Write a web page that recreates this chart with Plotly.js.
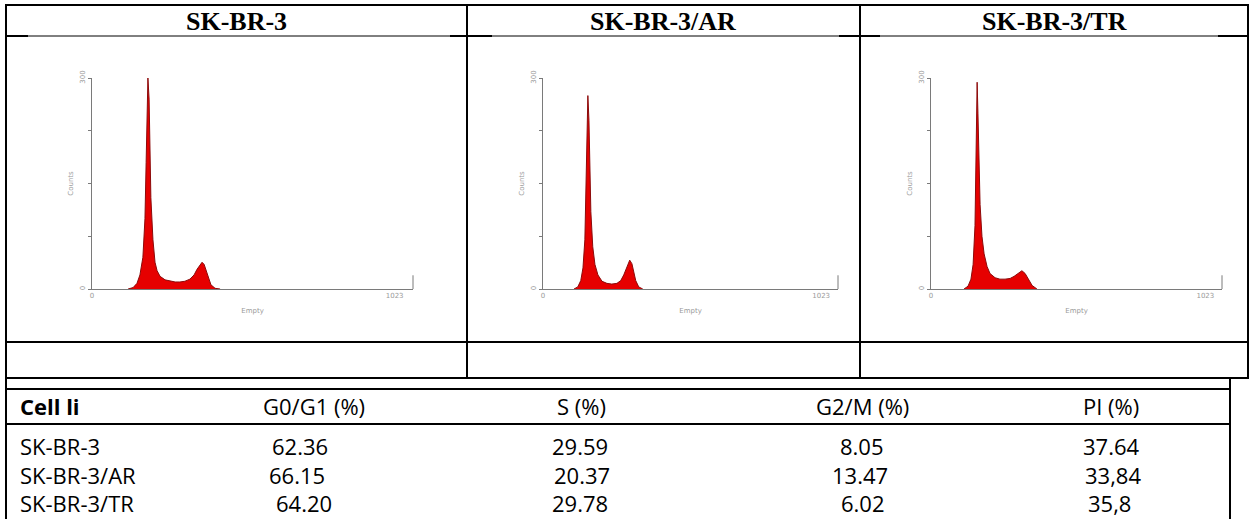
<!DOCTYPE html>
<html>
<head>
<meta charset="utf-8">
<script src="https://cdn.plot.ly/plotly-3.0.1.min.js"></script>
<style>
  html, body { margin: 0; padding: 0; background: #ffffff; }
  #chart { width: 1251px; height: 519px; }
</style>
</head>
<body>
<div id="chart"></div>
<script>
// ---- Cell lines and cell-cycle results ----
const panelTitles = ['SK-BR-3', 'SK-BR-3/AR', 'SK-BR-3/TR'];
const tableHeader = ['Cell li', 'G0/G1 (%)', 'S (%)', 'G2/M (%)', 'PI (%)'];
const cellLines = ['SK-BR-3', 'SK-BR-3/AR', 'SK-BR-3/TR'];
const g0g1 = ['62.36', '66.15', '64.20'];
const sPhase = ['29.59', '20.37', '29.78'];
const g2m = ['8.05', '13.47', '6.02'];
const pi = ['37.64', '33,84', '35,8'];

// ---- DNA-content histograms (channel, counts) ----
const channelsBR3 = [122, 139, 152, 162, 172, 179, 183, 186, 189, 193, 196, 199, 206, 213, 220, 230, 247, 264, 281, 297, 314, 331, 345, 355, 365, 372, 379, 385, 392, 402, 416, 433];
const countsBR3   = [0, 2, 8, 20, 45, 100, 180, 260, 300, 270, 200, 130, 70, 38, 26, 18, 13, 11, 10, 10, 11, 14, 20, 28, 35, 38, 35, 27, 16, 6, 1, 0];

const channelsAR = [114, 128, 139, 147, 154, 158, 161, 165, 169, 172, 176, 183, 191, 202, 217, 235, 253, 272, 286, 297, 308, 319, 327, 334, 341, 352, 367];
const countsAR   = [0, 3, 12, 30, 70, 130, 210, 275, 240, 170, 110, 60, 35, 20, 11, 8, 7, 8, 12, 20, 32, 41, 36, 24, 12, 3, 0];

const channelsTR = [123, 138, 149, 157, 164, 168, 172, 175, 179, 183, 190, 198, 209, 220, 239, 257, 276, 295, 310, 324, 339, 351, 362, 377, 395];
const countsTR   = [0, 4, 14, 35, 90, 180, 294, 250, 180, 120, 75, 50, 32, 22, 16, 14, 14, 15, 18, 22, 26, 22, 14, 5, 0];

const histChannels = [channelsBR3, channelsAR, channelsTR];
const histCounts = [countsBR3, countsAR, countsTR];

// ---- page geometry helpers (pixel -> paper) ----
const W = 1251, H = 519;
const fx = p => p / W;
const fy = p => 1 - p / H;

// histogram frames in pixels: [left, right]
const panelX = [[92, 413], [543, 838], [931, 1222]];
const panelTop = 78, panelBottom = 289;

const greyText = '#9a9a9a';
const axisColor = '#7a7a7a';

const traces = [];
const layout = {
  width: W, height: H,
  margin: { l: 0, r: 0, t: 0, b: 0 },
  paper_bgcolor: '#ffffff',
  plot_bgcolor: 'rgba(0,0,0,0)',
  showlegend: false,
  shapes: [],
  annotations: []
};

histChannels.forEach((ch, i) => {
  const sfx = i === 0 ? '' : String(i + 1);
  traces.push({
    type: 'scatter', mode: 'lines',
    x: ch, y: histCounts[i],
    xaxis: 'x' + sfx, yaxis: 'y' + sfx,
    fill: 'tozeroy', fillcolor: '#e60000',
    line: { color: '#8c0a0a', width: 1, shape: 'linear' },
    hoverinfo: 'skip'
  });
  layout['xaxis' + sfx] = {
    domain: [fx(panelX[i][0]), fx(panelX[i][1])],
    anchor: 'y' + sfx,
    range: [0, 1085],
    showgrid: false, zeroline: false,
    showline: true, linecolor: axisColor, linewidth: 1,
    tickmode: 'array', tickvals: [0, 1023], ticktext: ['0', '1023'],
    ticks: '', tickfont: { family: 'DejaVu Sans', size: 7, color: greyText },
    title: { text: 'Empty', font: { family: 'DejaVu Sans', size: 7, color: greyText }, standoff: 8 },
    fixedrange: true
  };
  layout['yaxis' + sfx] = {
    domain: [fy(panelBottom), fy(panelTop)],
    anchor: 'x' + sfx,
    range: [0, 300],
    showgrid: false, zeroline: false,
    showline: true, linecolor: axisColor, linewidth: 1,
    tickmode: 'array', tickvals: [0, 75, 150, 225, 300], ticktext: ['0', '', '', '', '300'],
    ticks: 'outside', ticklen: 3, tickcolor: axisColor, tickangle: -90,
    tickfont: { family: 'DejaVu Sans', size: 7, color: greyText },
    title: { text: 'Counts', font: { family: 'DejaVu Sans', size: 7, color: greyText }, standoff: 4 },
    fixedrange: true
  };
  // end bracket of the channel axis
  layout.shapes.push({
    type: 'line', xref: 'x' + sfx + ' domain', yref: 'y' + sfx + ' domain',
    x0: 1, x1: 1, y0: 0, y1: 0.065,
    line: { color: axisColor, width: 1 }
  });
});

// ---- table rules ----
function hLine(y, x0, x1, w) {
  layout.shapes.push({ type: 'line', xref: 'paper', yref: 'paper',
    x0: fx(x0), x1: fx(x1), y0: fy(y), y1: fy(y), line: { color: '#000', width: w } });
}
function vLine(x, y0, y1, w) {
  layout.shapes.push({ type: 'line', xref: 'paper', yref: 'paper',
    x0: fx(x), x1: fx(x), y0: fy(y0), y1: fy(y1), line: { color: '#000', width: w } });
}

// upper table (titles + histograms)
hLine(5, 6, 1248, 2);
hLine(36, 6, 1248, 1);
[[6, 28], [450, 492], [839, 880], [1218, 1248]].forEach(s => hLine(36, s[0], s[1], 2));
hLine(342, 6, 1248, 2);
hLine(378, 6, 1248, 2);
vLine(6, 4, 519, 2);
vLine(467, 4, 379, 2);
vLine(860, 4, 379, 2);
vLine(1248, 4, 379, 2);

// lower table (cell-cycle distribution)
hLine(389, 6, 1230, 2);
hLine(424, 6, 1230, 2);
vLine(1230, 377, 519, 2);

// panel titles
const titleCenters = [236, 663, 1054];
panelTitles.forEach((t, i) => {
  layout.annotations.push({
    xref: 'paper', yref: 'paper', x: fx(titleCenters[i]), y: fy(21),
    xanchor: 'center', yanchor: 'middle', showarrow: false,
    text: '<b>' + t + '</b>',
    font: { family: 'Liberation Serif', size: 26, color: '#000' }
  });
});

// lower table text
const tableFont = { family: 'Open Sans', size: 22, color: '#000' };
const headerCenters = [null, 314, 581, 862, 1111];
const rowY = [446, 475, 503];
const headerY = 406;

layout.annotations.push({
  xref: 'paper', yref: 'paper', x: fx(18), y: fy(headerY),
  xanchor: 'left', yanchor: 'middle', showarrow: false,
  text: '<b>' + tableHeader[0] + '</b>', font: tableFont
});
for (let c = 1; c < tableHeader.length; c++) {
  layout.annotations.push({
    xref: 'paper', yref: 'paper', x: fx(headerCenters[c]), y: fy(headerY),
    xanchor: 'center', yanchor: 'middle', showarrow: false,
    text: tableHeader[c], font: tableFont
  });
}

const valueCenters = [
  [300, 297, 304],   // G0/G1
  [580, 582, 580],   // S
  [862, 860, 863],   // G2/M
  [1111, 1113, 1109] // PI
];
const columns = [g0g1, sPhase, g2m, pi];
cellLines.forEach((name, r) => {
  layout.annotations.push({
    xref: 'paper', yref: 'paper', x: fx(18), y: fy(rowY[r]),
    xanchor: 'left', yanchor: 'middle', showarrow: false,
    text: name, font: tableFont
  });
  columns.forEach((col, c) => {
    layout.annotations.push({
      xref: 'paper', yref: 'paper', x: fx(valueCenters[c][r]), y: fy(rowY[r]),
      xanchor: 'center', yanchor: 'middle', showarrow: false,
      text: col[r], font: tableFont
    });
  });
});

Plotly.newPlot('chart', traces, layout, { staticPlot: true, displayModeBar: false });
</script>
</body>
</html>
